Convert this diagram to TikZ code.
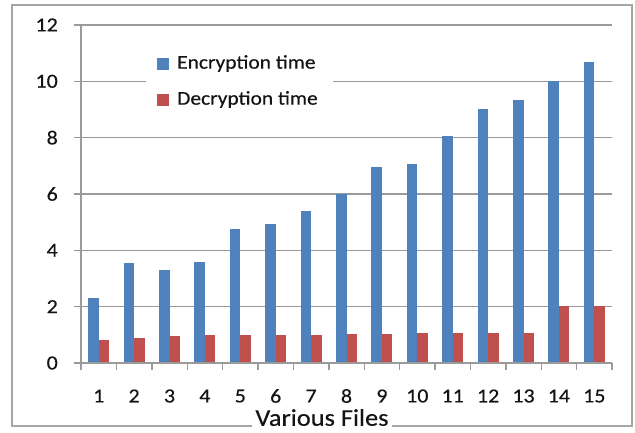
\documentclass[tikz,border=0pt]{standalone}
\usepackage{fontspec}
\setmainfont{Carlito}
\newfontfamily\chartfont[FakeStretch=1.1,FakeBold=0.35]{Carlito}
\definecolor{encblue}{HTML}{4F81BD}
\definecolor{decred}{HTML}{C0504D}
\definecolor{gridgray}{HTML}{9A9A9A}
\definecolor{framegray}{HTML}{A6A6A6}
\definecolor{ink}{HTML}{141414}

% value -> vertical position, category -> horizontal centre
\newcommand{\yv}[1]{363-28.17*#1}
\newcommand{\xc}[1]{81+35.4*(#1-0.5)}

\tikzset{
  gridline/.style={draw=gridgray, line width=1.2pt},
  axisline/.style={draw=gridgray, line width=1.4pt},
  ticklabel/.style={text=ink, inner sep=0pt, font=\chartfont\fontsize{20}{22}\selectfont},
  legendtext/.style={text=ink, inner sep=0pt, anchor=west, font=\chartfont\fontsize{19.5}{22}\selectfont},
  titlelabel/.style={text=ink, fill=white, inner xsep=3pt, inner ysep=1pt, font=\chartfont\fontsize{24}{26}\selectfont},
  encbar/.style={fill=encblue},
  decbar/.style={fill=decred},
}

\begin{document}
\begin{tikzpicture}[x=1pt,y=-1pt]
\useasboundingbox (0,0) rectangle (635,432);
\fill[white] (0,0) rectangle (635,432);

% chart frame
\draw[draw=framegray, line width=2pt] (12,5) rectangle (632,426);

% horizontal gridlines
\foreach \v in {2,4,...,12}
  \draw[gridline] (74,{\yv{\v}}) -- (612,{\yv{\v}});

% vertical axis with value labels
\draw[axisline] (81,{\yv{12}}) -- (81,{\yv{0}});
\foreach \v in {0,2,...,12}
  \node[ticklabel, anchor=east] (yl\v) at (58,{\yv{\v}}) {\v};

% legend
\fill[white] (146,45) rectangle (333,117);
\fill[encblue] (157,58) rectangle (169,70);
\node[legendtext] (legenc) at (177,63.5) {Encryption time};
\fill[decred] (157,94) rectangle (169,106);
\node[legendtext] (legdec) at (177,99.5) {Decryption time};

% bars: category / encryption / decryption
\foreach \i/\e/\d in {1/2.3/0.82, 2/3.55/0.88, 3/3.3/0.97, 4/3.6/1.0, 5/4.75/1.0,
                     6/4.95/1.0, 7/5.4/1.0, 8/6.0/1.04, 9/6.95/1.04, 10/7.05/1.05,
                     11/8.05/1.05, 12/9.0/1.05, 13/9.35/1.05, 14/10.0/2.02, 15/10.7/2.02}{
  \fill[encbar] ({\xc{\i}-10.5},{\yv{0}}) rectangle ({\xc{\i}},{\yv{\e}});
  \fill[decbar] ({\xc{\i}},{\yv{0}}) rectangle ({\xc{\i}+10.5},{\yv{\d}});
  \node[ticklabel] (xl\i) at ({\xc{\i}},396) {\i};
}

% horizontal axis with category ticks
\draw[axisline] (74,{\yv{0}}) -- (612,{\yv{0}});
\foreach \k in {0,...,15}
  \draw[axisline] ({81+35.4*\k},{\yv{0}}) -- ({81+35.4*\k},370);

% axis title sitting on the frame
\node[titlelabel] (xtitle) at (322,417.5) {Various Files};
\end{tikzpicture}
\end{document}
